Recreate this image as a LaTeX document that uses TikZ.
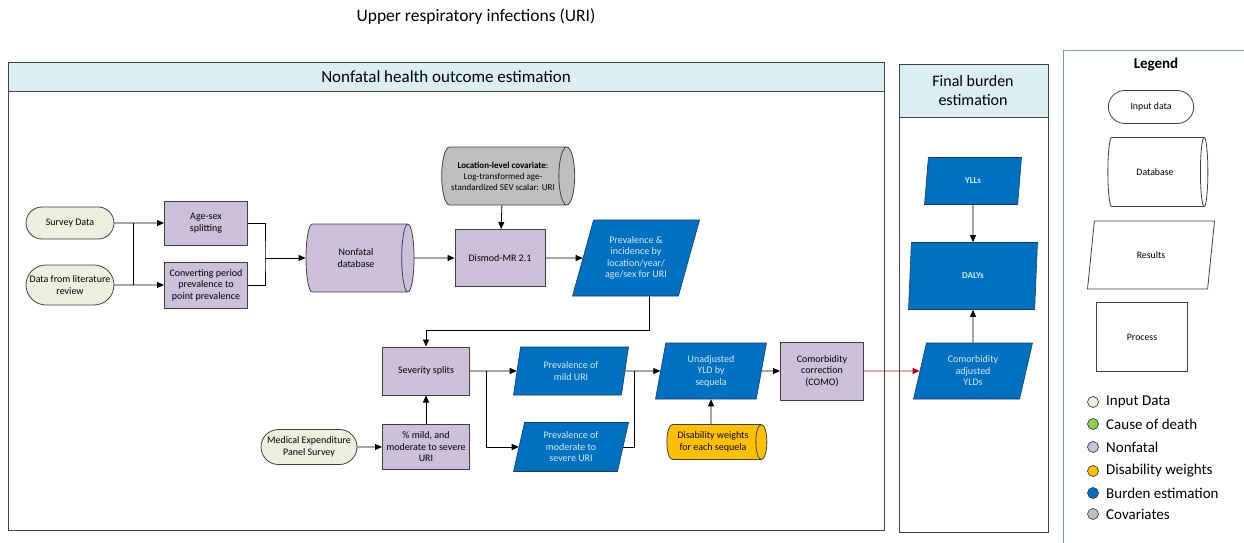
\documentclass[tikz,border=0pt]{standalone}
\usepackage{fontspec}
\setmainfont{Carlito}
\usetikzlibrary{positioning, shapes.geometric, shapes.misc, arrows.meta}

\definecolor{inputgreen}{RGB}{235,241,222}
\definecolor{deathgreen}{RGB}{146,208,80}
\definecolor{nonfatal}{RGB}{204,192,218}
\definecolor{dwyellow}{RGB}{255,192,0}
\definecolor{burdenblue}{RGB}{0,112,192}
\definecolor{burdenline}{RGB}{20,60,110}
\definecolor{burdentext}{RGB}{222,235,247}
\definecolor{covgray}{RGB}{191,191,191}
\definecolor{headblue}{RGB}{218,238,243}
\definecolor{framegray}{RGB}{64,64,64}
\definecolor{legendline}{RGB}{120,155,200}
\definecolor{comored}{RGB}{192,0,0}

\begin{document}
\begin{tikzpicture}[
  x=1pt,
  y=-1pt,
  font=\fontsize{10}{11.5}\selectfont,
  inputdata/.style={
    rounded rectangle,
    draw=framegray,
    fill=inputgreen,
    line width=0.8pt,
    align=center,
    inner sep=1pt,
    minimum width=90pt,
  },
  process/.style={
    rectangle,
    draw=framegray,
    fill=nonfatal,
    line width=1pt,
    align=center,
    inner sep=1pt,
  },
  % cylinder: minimum height runs along the axis
  database/.style={
    cylinder,
    draw=framegray,
    fill=nonfatal,
    line width=0.8pt,
    align=center,
    inner sep=1pt,
    shape aspect=0.6,
  },
  result/.style={
    trapezium,
    trapezium stretches body,
    trapezium left angle=68,
    trapezium right angle=112,
    draw=burdenline,
    fill=burdenblue,
    text=burdentext,
    line width=0.6pt,
    align=center,
    inner sep=1pt,
  },
  headtext/.style={font=\fontsize{16}{19}\selectfont, align=center},
  legshape/.style={draw=framegray, line width=0.8pt, fill=white, align=center, font=\fontsize{9.8}{11}\selectfont},
  legdot/.style={circle, draw=framegray, line width=0.7pt, minimum size=11pt, inner sep=0pt},
  legtext/.style={right, font=\fontsize{15}{18}\selectfont, inner sep=0pt},
  flow/.style={draw, line width=0.8pt, -{Triangle[length=7pt, width=6pt]}},
  link/.style={draw, line width=0.8pt},
]
\useasboundingbox (0,0) rectangle (1244,543);

% title and frames
\node[headtext, font=\fontsize{17.5}{21}\selectfont] (title) at (476,17) {Upper respiratory infections (URI)};
\draw[framegray, line width=1pt] (8,63) rectangle (884,530);
\draw[framegray, line width=1pt, fill=headblue] (8,63) rectangle (884,91);
\node[headtext, font=\fontsize{17}{20}\selectfont] (nfhead) at (446,77) {Nonfatal health outcome estimation};
\draw[framegray, line width=1pt] (899,65) rectangle (1048,532);
\draw[framegray, line width=1pt, fill=headblue] (899,65) rectangle (1048,117);
\node[headtext] (fbhead) at (973,91) {Final burden\\estimation};

% input and splitting
\node[inputdata, minimum height=32pt] (survey) at (70,223) {Survey Data};
\node[inputdata, minimum height=40pt] (litrev) at (70,285) {Data from literature\\review};
\node[process, minimum width=83pt, minimum height=44pt] (agesex) at (206,223) {Age-sex\\splitting};
\node[process, minimum width=83pt, minimum height=46pt] (convert) at (206,285) {Converting period\\prevalence to\\point prevalence};
\node[database, minimum height=108pt, minimum width=68pt] (nfdb) at (356,258) {Nonfatal\\database};
\node[database, fill=covgray, shape aspect=0.52, minimum height=133pt, minimum width=58pt,
  font=\fontsize{9}{11}\selectfont] (covar) at (503,176)
  {\textbf{Location-level covariate}:\\Log-transformed age-\\standardized SEV scalar: URI};
\node[process, minimum width=90pt, minimum height=57pt] (dismod) at (500,258) {Dismod-MR 2.1};
\node[result, trapezium left angle=65, trapezium right angle=115,
  minimum width=127pt, minimum height=76pt] (previnc) at (636,258)
  {Prevalence \&\\incidence by\\location/year/\\age/sex for URI};

% severity
\node[process, minimum width=87pt, minimum height=48pt] (severity) at (426,371) {Severity splits};
\node[process, minimum width=87pt, minimum height=45pt] (pctmild) at (426,447) {\% mild, and\\moderate to severe\\URI};
\node[inputdata, minimum width=98pt, minimum height=35pt] (meps) at (309,447) {Medical Expenditure\\Panel Survey};
\node[result, trapezium left angle=71, trapezium right angle=109,
  minimum width=115pt, minimum height=48pt] (mild) at (571,371) {Prevalence of\\mild URI};
\node[result, trapezium left angle=71, trapezium right angle=109,
  minimum width=115pt, minimum height=49pt] (moderate) at (571,447) {Prevalence of\\moderate to\\severe URI};
\node[result, trapezium left angle=73, trapezium right angle=107,
  minimum width=111pt, minimum height=56pt] (unadj) at (711,371) {Unadjusted\\YLD by\\sequela};
\node[database, fill=dwyellow, shape aspect=0.5, minimum height=100pt, minimum width=35pt] (dw) at (713,442)
  {Disability weights\\for each sequela};
\node[process, minimum width=83pt, minimum height=58pt] (como) at (822,371) {Comorbidity\\correction\\(COMO)};

% final burden
\node[result, minimum width=119pt, minimum height=56pt] (adjyld) at (973,371) {Comorbidity\\adjusted\\YLDs};
\node[result, trapezium left angle=70, trapezium right angle=110,
  minimum width=129pt, minimum height=67pt, font=\bfseries\fontsize{9}{10}\selectfont] (dalys) at (973,276) {DALYs};
\node[result, trapezium left angle=64, trapezium right angle=116,
  minimum width=97pt, minimum height=47pt, font=\bfseries\fontsize{9}{10}\selectfont] (ylls) at (973,181) {YLLs};

% connectors
\coordinate (injoin) at (133,223);
\coordinate (outjoin) at (265,258);
\coordinate (prevturn) at (649,330);
\coordinate (sevjoin) at (486,371);
\coordinate (prevjoin) at (634,371);
\draw[flow] (survey) -- (agesex);
\draw[flow] (litrev) -- (convert);
\draw[link] (injoin) -- (injoin |- litrev.east);
\draw[link] (agesex.east) -| (outjoin) |- (convert.east);
\draw[flow] (outjoin) -- (nfdb.west);
\draw[flow] (nfdb) -- (dismod);
\draw[flow] (covar) -- (dismod);
\draw[flow] (dismod) -- (previnc);
\draw[flow] (previnc.south -| prevturn) -- (prevturn) -| (severity.north);
\draw[flow] (pctmild) -- (severity);
\draw[flow] (meps) -- (pctmild);
\draw[flow] (severity) -- (mild);
\draw[flow] (sevjoin) |- (moderate);
\draw[link] (mild) -- (prevjoin);
\draw[link] (moderate) -| (prevjoin);
\draw[flow] (prevjoin) -- (unadj);
\draw[flow] (dw.north -| unadj) -- (unadj);
\draw[flow] (unadj) -- (como);
\draw[flow, draw=comored, color=comored] (como) -- (adjyld);
\draw[flow] (ylls) -- (dalys);
\draw[flow] (adjyld) -- (dalys);

% legend
\draw[legendline, line width=0.8pt] (1063,543) -- (1063,50) -- (1244,50);
\node[font=\bfseries\fontsize{15}{18}\selectfont] (legtitle) at (1156,65) {Legend};
\node[legshape, rounded rectangle, minimum width=92pt, minimum height=33pt] (leginput) at (1151,107) {Input data};
\node[legshape, cylinder, shape aspect=0.55, minimum height=100pt, minimum width=69pt] (legdb) at (1155,172) {Database};
\node[legshape, trapezium, trapezium stretches body, trapezium left angle=63, trapezium right angle=117,
  minimum width=127pt, minimum height=68pt] (legres) at (1151,255) {Results};
\node[legshape, rectangle, minimum width=91pt, minimum height=69pt] (legproc) at (1142,337) {Process};
\foreach \ypos/\col/\txt [count=\i] in {402/inputgreen/Input Data, 424/deathgreen/Cause of death,
    447/nonfatal/Nonfatal, 471/dwyellow/Disability weights, 493/burdenblue/Burden estimation,
    514/covgray/Covariates} {
  \node[legdot, fill=\col] (dot\i) at (1093,\ypos) {};
  \node[legtext] (dottext\i) at (1106,\ypos) {\txt};
}
\end{tikzpicture}
\end{document}
